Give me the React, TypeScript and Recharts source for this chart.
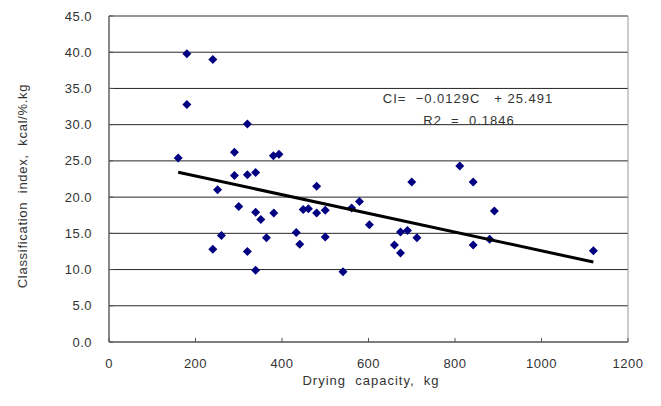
import { ScatterChart, Scatter, XAxis, YAxis, CartesianGrid, ReferenceArea } from 'recharts';

// Drying capacity (kg) vs classification index (kcal/%.kg)
const capacity = [
  160, 180, 180, 240, 251, 240, 260, 290, 290, 300, 320, 320, 320, 339, 339,
  339, 351, 364, 380, 393, 381, 433, 441, 449, 461, 480, 480, 500, 500, 541,
  561, 579, 602, 660, 674, 674, 690, 700, 712, 811, 842, 842, 880, 891, 1120,
];
const classIndex = [
  25.4, 39.8, 32.8, 39.0, 21.0, 12.8, 14.7, 26.2, 23.0, 18.7, 30.1, 23.1, 12.5, 23.4, 17.9,
  9.9, 16.9, 14.4, 25.7, 25.9, 17.8, 15.1, 13.5, 18.3, 18.4, 21.5, 17.8, 18.2, 14.5, 9.7,
  18.5, 19.4, 16.2, 13.4, 15.2, 12.3, 15.4, 22.1, 14.4, 24.3, 22.1, 13.4, 14.2, 18.1, 12.6,
];
// linear trend CI = -0.0129C + 25.491, end points
const trendX = [160, 1120];
const trendY = [23.43, 11.04];

const xTicks = [0, 200, 400, 600, 800, 1000, 1200];
const yTicks = [0, 5, 10, 15, 20, 25, 30, 35, 40, 45];

const points = capacity.map((c, i) => ({ x: c, y: classIndex[i] }));
const trend = trendX.map((c, i) => ({ x: c, y: trendY[i] }));

const FONT = '"Liberation Sans", Arial, sans-serif';
const TEXT = '#333';

const XTick = (props: any) => {
  const { x, y, payload } = props;
  return (
    <g>
      <line x1={x} x2={x} y1={y} y2={y - 4} stroke="#555" />
      <text x={x} y={y + 21} dy="0.35em" textAnchor="middle" fontSize={13} fill={TEXT} fontFamily={FONT} letterSpacing={0.5}>
        {payload.value}
      </text>
    </g>
  );
};

const YTick = (props: any) => {
  const { x, y, payload } = props;
  return (
    <g>
      <line x1={x} x2={x + 4} y1={y} y2={y} stroke="#555" />
      <text x={x - 17} y={y} dy="0.35em" textAnchor="end" fontSize={13} fill={TEXT} fontFamily={FONT} letterSpacing={0.5}>
        {Number(payload.value).toFixed(1)}
      </text>
    </g>
  );
};

const Diamond = (props: any) => {
  const { cx, cy } = props;
  const r = 4.5;
  return <polygon points={`${cx},${cy - r} ${cx + r},${cy} ${cx},${cy + r} ${cx - r},${cy}`} fill="#000080" />;
};

export default function App() {
  return (
    <ScatterChart width={653} height={398} margin={{ top: 8, right: 33, left: 0, bottom: 0 }}>
      <CartesianGrid horizontal vertical={false} stroke="#000" strokeOpacity={0.85} />
      <ReferenceArea x1={0} x2={1200} y1={0} y2={45} fill="none" stroke="#999" strokeOpacity={1} />
      <XAxis
        type="number"
        dataKey="x"
        domain={[0, 1200]}
        ticks={xTicks}
        height={64}
        tickSize={0}
        tickMargin={0}
        tickLine={false}
        tick={<XTick />}
        stroke="#666"
        interval={0}
      />
      <YAxis
        type="number"
        dataKey="y"
        domain={[0, 45]}
        ticks={yTicks}
        width={101}
        tickSize={0}
        tickMargin={0}
        tickLine={false}
        tick={<YTick />}
        stroke="#444"
        interval={0}
      />
      <Scatter data={points} shape={<Diamond />} isAnimationActive={false} />
      <Scatter
        data={trend}
        line={{ stroke: '#000', strokeWidth: 3 }}
        shape={() => <g />}
        isAnimationActive={false}
      />
      <text x={460} y={90} dy="0.35em" textAnchor="middle" fontSize={13} fill={TEXT} fontFamily={FONT} letterSpacing={1} style={{ whiteSpace: 'pre' }}>
        {'CI=  −0.0129C   + 25.491'}
      </text>
      <text x={461} y={112} dy="0.35em" textAnchor="middle" fontSize={13} fill={TEXT} fontFamily={FONT} letterSpacing={1} style={{ whiteSpace: 'pre' }}>
        {'R2  =  0.1846'}
      </text>
      <text
        x={14}
        y={178}
        dy="0.35em"
        textAnchor="middle"
        fontSize={13}
        fill={TEXT}
        fontFamily={FONT}
        letterSpacing={0.7}
        transform="rotate(-90 14 178)"
        style={{ whiteSpace: 'pre' }}
      >
        {'Classification  index,  kcal/%.kg'}
      </text>
      <text x={363} y={372} dy="0.35em" textAnchor="middle" fontSize={13} fill={TEXT} fontFamily={FONT} letterSpacing={1} style={{ whiteSpace: 'pre' }}>
        {'Drying  capacity,  kg'}
      </text>
    </ScatterChart>
  );
}
